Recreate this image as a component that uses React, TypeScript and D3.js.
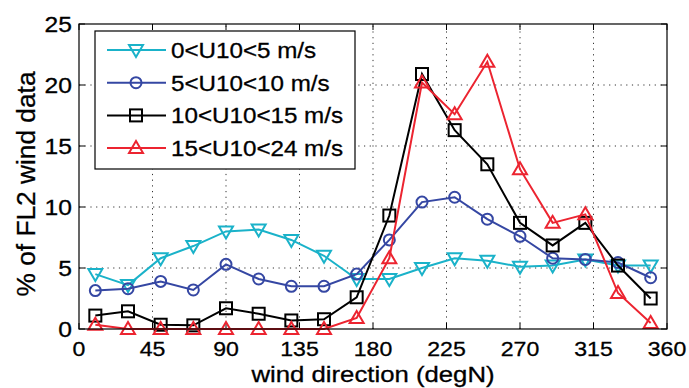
import React, { useEffect, useRef } from "react";
import * as d3 from "d3";

const directions = [10, 30, 50, 70, 90, 110, 130, 150, 170, 190, 210, 230, 250, 270, 290, 310, 330, 350];
const light = [4.5, 3.6, 5.8, 6.8, 8.0, 8.15, 7.3, 6.0, 4.1, 4.1, 5.0, 5.8, 5.6, 5.1, 5.2, 5.7, 5.2, 5.2];
const moderate = [3.15, 3.3, 3.9, 3.2, 5.3, 4.1, 3.5, 3.5, 4.5, 7.3, 10.4, 10.8, 9.0, 7.6, 5.8, 5.7, 5.45, 4.2];
const strong = [1.1, 1.45, 0.35, 0.3, 1.7, 1.25, 0.7, 0.8, 2.6, 9.3, 20.9, 16.3, 13.5, 8.7, 6.85, 8.7, 5.2, 2.5];
const gale = [0.35, 0, 0, 0, 0, 0, 0, 0, 0.9, 5.8, 20.2, 17.6, 21.9, 13.1, 8.7, 9.4, 2.95, 0.5];
const seriesLabels = ["0<U10<5 m/s", "5<U10<10 m/s", "10<U10<15 m/s", "15<U10<24 m/s"];
const xTicks = [0, 45, 90, 135, 180, 225, 270, 315, 360];
const yTicks = [0, 5, 10, 15, 20, 25];

const colors = ["#1ab2c9", "#3547a3", "#000000", "#ec2430"];
const markers = ["triDown", "circle", "square", "triUp"];

const App: React.FC = () => {
  const svgRef = useRef<SVGSVGElement>(null);

  useEffect(() => {
    if (!svgRef.current) return;
    const width = 689;
    const height = 388;
    const margin = { top: 24, right: 22, bottom: 59, left: 79 };

    d3.select(svgRef.current).selectAll("*").remove();
    const svg = d3
      .select(svgRef.current)
      .attr("width", width)
      .attr("height", height)
      .style("font-family", "'Liberation Sans', Arial, sans-serif");

    const x = d3.scaleLinear().domain([0, 360]).range([margin.left, width - margin.right]);
    const y = d3.scaleLinear().domain([0, 25]).range([height - margin.bottom, margin.top]);

    // the source image looks stretched sideways, so text gets a small x-scale
    const label = (g: any, tx: number, ty: number, txt: string, size: number, anchor: string, sx = 1.1) =>
      g
        .append("text")
        .attr("transform", `translate(${tx},${ty}) scale(${sx},1)`)
        .attr("text-anchor", anchor)
        .style("font-size", `${size}px`)
        .attr("stroke", "#000")
        .attr("stroke-width", 0.3)
        .text(txt);

    // grid (dotted)
    const grid = svg.append("g").attr("stroke", "#333").attr("stroke-width", 1).attr("stroke-dasharray", "1.2,4.5");
    xTicks.slice(1, -1).forEach((t) => {
      grid.append("line").attr("x1", x(t)).attr("x2", x(t)).attr("y1", y(0)).attr("y2", y(25));
    });
    yTicks.slice(1, -1).forEach((t) => {
      grid.append("line").attr("x1", x(0)).attr("x2", x(360)).attr("y1", y(t)).attr("y2", y(t));
    });

    // inward ticks on all four sides
    const tickLen = 6;
    const axisG = svg.append("g").attr("stroke", "#000").attr("stroke-width", 1);
    xTicks.forEach((t) => {
      axisG.append("line").attr("x1", x(t)).attr("x2", x(t)).attr("y1", y(0)).attr("y2", y(0) - tickLen);
      axisG.append("line").attr("x1", x(t)).attr("x2", x(t)).attr("y1", y(25)).attr("y2", y(25) + tickLen);
    });
    yTicks.forEach((t) => {
      axisG.append("line").attr("x1", x(0)).attr("x2", x(0) + tickLen).attr("y1", y(t)).attr("y2", y(t));
      axisG.append("line").attr("x1", x(360)).attr("x2", x(360) - tickLen).attr("y1", y(t)).attr("y2", y(t));
    });

    const tickText = svg.append("g");
    xTicks.forEach((t) => label(tickText, x(t), y(0) + 27, String(t), 21, "middle"));
    yTicks.forEach((t) => label(tickText, x(0) - 7, y(t) + 7.5, String(t), 22, "end", 1.12));

    label(svg, (x(0) + x(360)) / 2, height - 6, "wind direction (degN)", 22, "middle", 1.17);

    svg
      .append("text")
      .attr("transform", `translate(35,184) rotate(-90)`)
      .attr("text-anchor", "middle")
      .style("font-size", "25px")
      .attr("stroke", "#000")
      .attr("stroke-width", 0.3)
      .attr("textLength", 225)
      .attr("lengthAdjust", "spacingAndGlyphs")
      .text("% of FL2 wind data");

    const drawMarker = (g: any, kind: string, cx: number, cy: number, color: string) => {
      const s = 6;
      if (kind === "circle") {
        g.append("circle").attr("cx", cx).attr("cy", cy).attr("r", 5.5).attr("fill", "none").attr("stroke", color).attr("stroke-width", 2);
      } else if (kind === "square") {
        g.append("rect").attr("x", cx - s).attr("y", cy - s).attr("width", 2 * s).attr("height", 2 * s).attr("fill", "none").attr("stroke", color).attr("stroke-width", 2);
      } else {
        const dir = kind === "triUp" ? -1 : 1;
        const pts = [
          [cx, cy + dir * 7],
          [cx - 7, cy - dir * 5],
          [cx + 7, cy - dir * 5],
        ];
        g.append("polygon").attr("points", pts.map((p) => p.join(",")).join(" ")).attr("fill", "none").attr("stroke", color).attr("stroke-width", 2);
      }
    };

    const series = [light, moderate, strong, gale];
    const line = d3
      .line<number>()
      .x((_, i) => x(directions[i]))
      .y((d) => y(d));

    series.forEach((vals, si) => {
      const g = svg.append("g");
      g.append("path").attr("d", line(vals) as string).attr("fill", "none").attr("stroke", colors[si]).attr("stroke-width", 2);
      vals.forEach((v, i) => drawMarker(g, markers[si], x(directions[i]), y(v), colors[si]));
    });

    // axis box
    svg
      .append("rect")
      .attr("x", x(0))
      .attr("y", y(25))
      .attr("width", x(360) - x(0))
      .attr("height", y(0) - y(25))
      .attr("fill", "none")
      .attr("stroke", "#000")
      .attr("stroke-width", 1.2);

    // legend
    const leg = svg.append("g");
    leg
      .append("rect")
      .attr("x", 95)
      .attr("y", 31)
      .attr("width", 260)
      .attr("height", 138)
      .attr("fill", "#fff")
      .attr("stroke", "#000")
      .attr("stroke-width", 1.2);
    seriesLabels.forEach((lab, i) => {
      const ly = 50 + i * 32.7;
      leg.append("line").attr("x1", 107).attr("x2", 166).attr("y1", ly).attr("y2", ly).attr("stroke", colors[i]).attr("stroke-width", 2);
      drawMarker(leg, markers[i], 136, ly, colors[i]);
      label(leg, 171, ly + 8, lab, 22, "start", 1.1);
    });
  }, []);

  return <svg ref={svgRef} style={{ position: "absolute", left: 0, top: 0 }}></svg>;
};

export default App;
